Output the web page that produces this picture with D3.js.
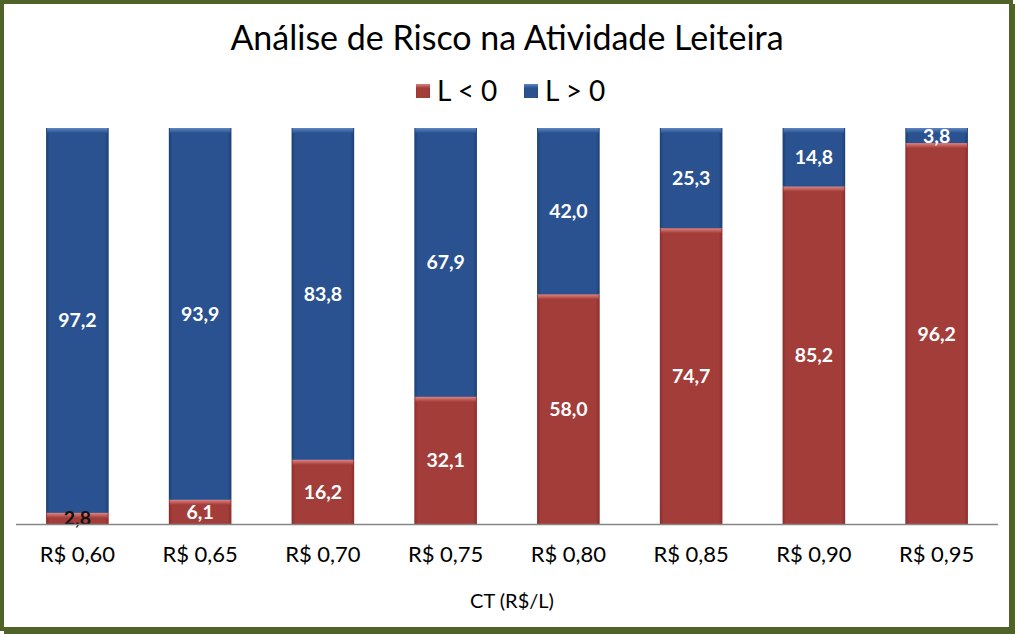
<!DOCTYPE html>
<html><head><meta charset="utf-8">
<script src="https://cdn.jsdelivr.net/npm/d3@7"></script>
<style>body{margin:0;background:#fff}svg{display:block}</style>
</head><body>
<svg id="c" width="1015" height="634"></svg>
<script>
const categories = ["R$ 0,60","R$ 0,65","R$ 0,70","R$ 0,75","R$ 0,80","R$ 0,85","R$ 0,90","R$ 0,95"];
const lossValues = [2.8, 6.1, 16.2, 32.1, 58.0, 74.7, 85.2, 96.2];
const profitValues = [97.2, 93.9, 83.8, 67.9, 42.0, 25.3, 14.8, 3.8];
const seriesNames = ["L < 0", "L > 0"];
const title = "Análise de Risco na Atividade Leiteira";
const xTitle = "CT (R$/L)";

const svg = d3.select("#c");
const W = 1015, H = 634;
const font = "Lato, 'Open Sans', sans-serif";
const colors = {"L < 0": "#A33D3A", "L > 0": "#2A5290"};
const hi = {"L < 0": "#E0817D", "L > 0": "#5D86C2"};
const dark = {"L < 0": "#8A2E2C", "L > 0": "#1D3F72"};

const defs = svg.append("defs");
seriesNames.forEach((s,i)=>{
  const g = defs.append("linearGradient").attr("id","g"+i).attr("x1",0).attr("x2",1).attr("y1",0).attr("y2",0);
  g.append("stop").attr("offset","0%").attr("stop-color",dark[s]);
  g.append("stop").attr("offset","6%").attr("stop-color",colors[s]);
  g.append("stop").attr("offset","94%").attr("stop-color",colors[s]);
  g.append("stop").attr("offset","100%").attr("stop-color",dark[s]);
  const t = defs.append("linearGradient").attr("id","t"+i).attr("x1",0).attr("x2",0).attr("y1",0).attr("y2",1);
  t.append("stop").attr("offset","0%").attr("stop-color",hi[s]);
  t.append("stop").attr("offset","100%").attr("stop-color",colors[s]);
});

svg.append("rect").attr("x",0).attr("y",0).attr("width",W).attr("height",H).attr("fill","#fff");

const x = d3.scaleBand().domain(categories).range([16, 998]).paddingInner(0.49).paddingOuter(0.245);
const y = d3.scaleLinear().domain([0,100]).range([524, 128]);

const data = categories.map((c,i)=>({cat:c, "L < 0":lossValues[i], "L > 0":profitValues[i]}));
const stack = d3.stack().keys(seriesNames)(data);

stack.forEach((layer,i)=>{
  const g = svg.append("g");
  layer.forEach(d=>{
    const x0 = x(d.data.cat), bw = x.bandwidth();
    const y0 = y(d[1]), h = y(d[0]) - y(d[1]);
    g.append("rect").attr("x",x0).attr("y",y0).attr("width",bw).attr("height",h).attr("fill",`url(#g${i})`);
    g.append("rect").attr("x",x0+1).attr("y",y0).attr("width",bw-2).attr("height",Math.min(5,h)).attr("fill",`url(#t${i})`);
  });
});

stack.forEach((layer,i)=>{
  layer.forEach(d=>{
    const v = d[1]-d[0];
    const cy = (y(d[0])+y(d[1]))/2;
    svg.append("text").attr("x",x(d.data.cat)+x.bandwidth()/2).attr("y",cy).attr("dy","0.36em")
      .attr("text-anchor","middle").attr("font-family",font).attr("font-weight","bold").attr("font-size",19.5)
      .attr("fill", v < 5 && i===0 ? "#111" : "#fff")
      .text(d3.format(".1f")(v).replace(".",","));
  });
});

// axis
const xAxis = d3.axisBottom(x).tickSize(0).tickPadding(22);
const ax = svg.append("g").attr("transform","translate(0,524)").call(xAxis);
ax.select(".domain").attr("stroke","#868686").attr("stroke-width",1.5).attr("d","M16,0.5H998");
ax.selectAll("text").attr("font-family",font).attr("font-size",22).attr("fill","#000");

svg.append("text").attr("x",512).attr("y",601).attr("dy","0.35em").attr("text-anchor","middle")
  .attr("font-family",font).attr("font-size",20).attr("fill","#000").text(xTitle);

svg.append("text").attr("x",507).attr("y",38).attr("dy","0.35em").attr("text-anchor","middle")
  .attr("font-family",font).attr("font-size",34).attr("fill","#000").text(title);

// legend
const leg = [{s:"L < 0", x:416},{s:"L > 0", x:524}];
leg.forEach((l,i)=>{
  svg.append("rect").attr("x",l.x).attr("y",84).attr("width",14).attr("height",14).attr("fill",`url(#g${i})`);
  svg.append("rect").attr("x",l.x).attr("y",84).attr("width",14).attr("height",4).attr("fill",`url(#t${i})`);
  svg.append("text").attr("x",l.x+21).attr("y",91).attr("dy","0.36em").attr("font-family",font)
    .attr("font-size",28).attr("fill","#000").text(l.s);
});

// border
svg.append("rect").attr("x",2).attr("y",2).attr("width",1009).attr("height",627)
  .attr("fill","none").attr("stroke","#4F6228").attr("stroke-width",4);
svg.append("rect").attr("x",1011).attr("y",4).attr("width",4).attr("height",630).attr("fill","#4F6228");
svg.append("rect").attr("x",4).attr("y",629).attr("width",1011).attr("height",5).attr("fill","#4F6228");
</script>
</body></html>
